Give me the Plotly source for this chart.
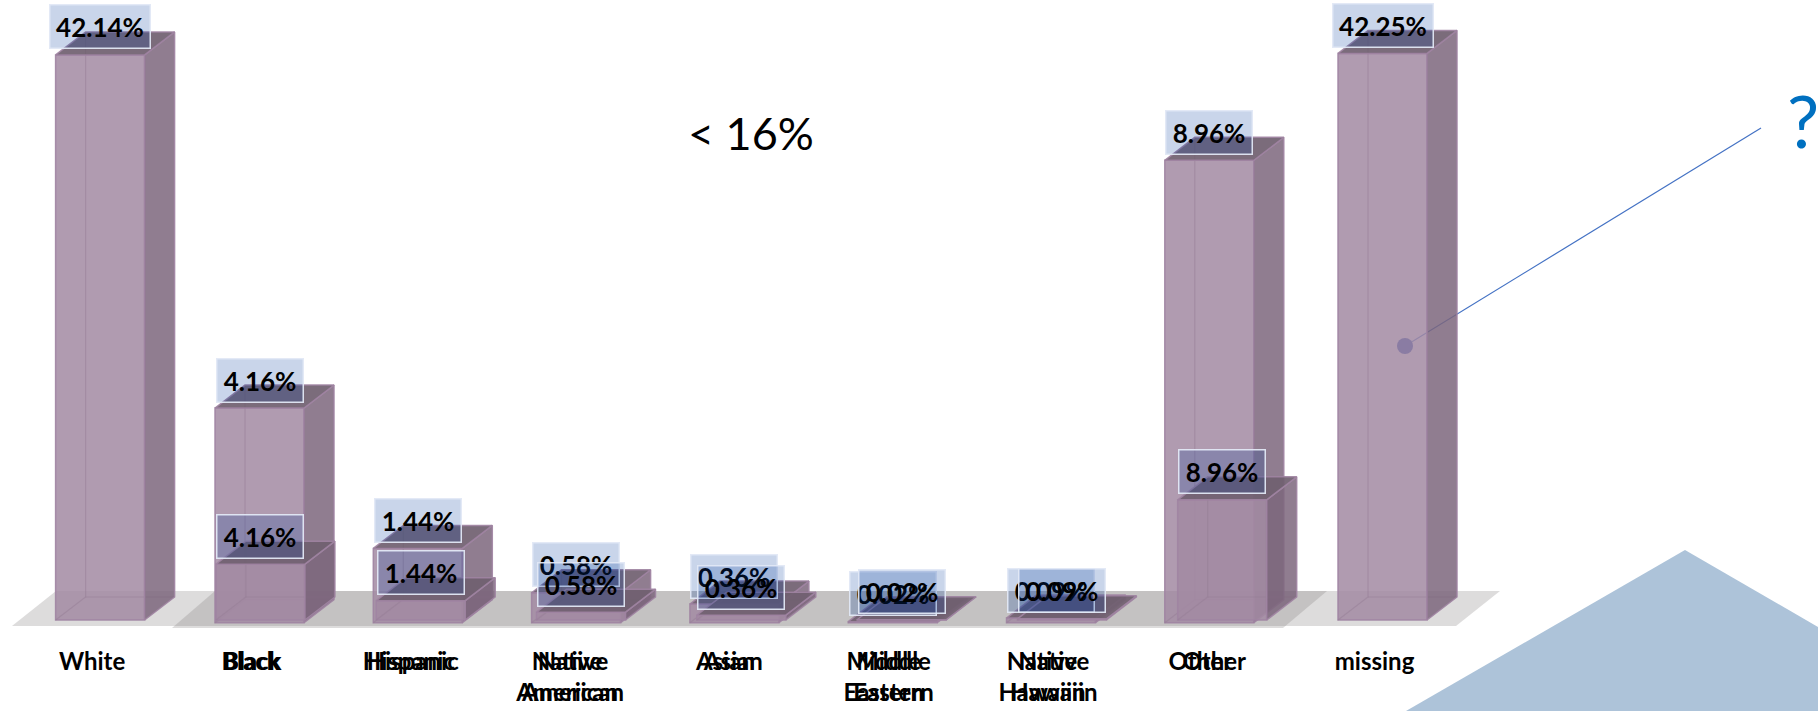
import plotly.graph_objects as go

# ---- data ----
categories_full = ["White", "Black", "Hispanic", "Native<br>American", "Asian",
                   "Middle<br>Eastern", "Native<br>Hawaiin", "Other", "missing"]
share_full = [42.14, 4.16, 1.44, 0.58, 0.36, 0.02, 0.09, 8.96, 42.25]
categories_zoom = ["Black", "Hispanic", "Native<br>American", "Asian",
                   "Middle<br>Eastern", "Native<br>Hawaiin", "Other"]
share_zoom = [4.16, 1.44, 0.58, 0.36, 0.02, 0.09, 8.96]

# ---- layout constants (px) ----
W, H = 1818, 711
BAR_W, DX, DY = 89, 30, 23
FULL_LEFT, FULL_STEP, FULL_BASE, FULL_SCALE = 55.6, 160.3, 620.0, 13.41
ZOOM_LEFT, ZOOM_STEP, ZOOM_BASE, ZOOM_SCALE = 215.0, 158.3, 622.7, 51.6

FRONT = "rgba(162,137,162,0.85)"
SIDE = "rgba(125,102,124,0.85)"
TOP = "rgba(112,96,112,0.92)"
EDGE = "rgba(160,132,162,0.9)"
INNER = "rgba(150,125,150,0.5)"
BOX = "rgba(0,56,157,0.21)"
BOX_EDGE = "rgba(225,232,245,0.95)"
FLOOR = "rgba(128,127,124,0.27)"
FONT = "Lato"

fig = go.Figure()


def add_chart(values, left0, step, scale, xa, ya):
    lefts = [left0 + i * step for i in range(len(values))]
    dy = DY / scale
    fig.add_trace(go.Bar(x=[l + BAR_W / 2 for l in lefts], y=values, width=BAR_W,
                         marker=dict(color=FRONT, line=dict(color=EDGE, width=1.5)),
                         xaxis=xa, yaxis=ya, hoverinfo="skip"))
    sx, sy, tx, ty, ix, iy = [], [], [], [], [], []
    for l, v in zip(lefts, values):
        r = l + BAR_W
        sx += [r, r + DX, r + DX, r, r, None]
        sy += [0, dy, v + dy, v, 0, None]
        tx += [l, l + DX, r + DX, r, l, None]
        ty += [v, v + dy, v + dy, v, v, None]
        ix += [l, l + DX, l + DX, None, l + DX, r + DX, None]
        iy += [0, dy, v + dy, None, dy, dy, None]
    fig.add_trace(go.Scatter(x=ix, y=iy, mode="lines", line=dict(color=INNER, width=1.2),
                             xaxis=xa, yaxis=ya, hoverinfo="skip"))
    for px_, py_, col in ((sx, sy, SIDE), (tx, ty, TOP)):
        fig.add_trace(go.Scatter(x=px_, y=py_, mode="lines", fill="toself", fillcolor=col,
                                 line=dict(color=EDGE, width=1.5),
                                 xaxis=xa, yaxis=ya, hoverinfo="skip"))
    return lefts


zoom_lefts = add_chart(share_zoom, ZOOM_LEFT, ZOOM_STEP, ZOOM_SCALE, "x", "y")
full_lefts = add_chart(share_full, FULL_LEFT, FULL_STEP, FULL_SCALE, "x2", "y2")

annotations = []


def add_labels(values, lefts, xa, ya):
    for l, v in zip(lefts, values):
        annotations.append(dict(
            x=l + 44.5, y=v, xref=xa, yref=ya, yshift=28, text=f"<b>{v:.2f}%</b>",
            showarrow=False, width=99 if v >= 10 else 85, height=42,
            align="center", valign="middle", bgcolor=BOX, bordercolor=BOX_EDGE,
            borderwidth=1.5, borderpad=0,
            font=dict(family=FONT, size=26, color="black")))


add_labels(share_zoom, zoom_lefts, "x", "y")
add_labels(share_full, full_lefts, "x2", "y2")
annotations.append(dict(x=751 / W, y=1 - 133 / H, xref="paper", yref="paper", text="&lt; 16%",
                        xanchor="center", yanchor="middle",
                        showarrow=False, font=dict(family=FONT, size=45, color="black")))
annotations.append(dict(x=1803 / W, y=1 - 120 / H, xref="paper", yref="paper", text="?",
                        xanchor="center", yanchor="middle",
                        showarrow=False, font=dict(family=FONT, size=72, color="#0070c0")))


def poly(points, fill, layer="below"):
    path = "M " + " L ".join(f"{x / W:.5f},{1 - y / H:.5f}" for x, y in points) + " Z"
    return dict(type="path", xref="paper", yref="paper", path=path, fillcolor=fill,
                line=dict(width=0), layer=layer)


shapes = [
    poly([(12, 626), (56, 591), (1500, 591), (1456, 626)], FLOOR),
    poly([(172, 628), (215, 591), (1327, 591), (1283, 628)], FLOOR),
    poly([(1406, 711), (1685, 550), (1818, 627), (1818, 711)], "#adc3d9"),
    dict(type="line", xref="paper", yref="paper", x0=1761 / W, y0=1 - 128 / H,
         x1=1405 / W, y1=1 - 346 / H, line=dict(color="#4472c4", width=1.2), layer="below"),
    dict(type="circle", xref="paper", yref="paper", x0=1397 / W, x1=1413 / W,
         y0=1 - 354 / H, y1=1 - 338 / H, fillcolor="#8a7ca3", line=dict(width=0), layer="above"),
]

tick_font = dict(family=FONT, size=24, color="black", weight=700)
fig.update_layout(
    width=W, height=H, margin=dict(l=0, r=0, t=0, b=0),
    paper_bgcolor="white", plot_bgcolor="rgba(0,0,0,0)", showlegend=False,
    barmode="overlay", annotations=annotations, shapes=shapes,
    xaxis=dict(range=[0, W], anchor="free", position=1 - 645 / H, showgrid=False, zeroline=False,
               showline=False, tickmode="array",
               tickvals=[l + BAR_W / 2 - 9 for l in zoom_lefts], ticktext=categories_zoom,
               ticks="", tickfont=tick_font, tickangle=0),
    xaxis2=dict(range=[0, W], overlaying="x", anchor="free", position=1 - 645 / H, side="bottom",
                showgrid=False, zeroline=False, showline=False, tickmode="array",
                tickvals=[l + BAR_W / 2 - 8 for l in full_lefts], ticktext=categories_full,
                ticks="", tickfont=tick_font, tickangle=0),
    yaxis=dict(range=[(ZOOM_BASE - H) / ZOOM_SCALE, ZOOM_BASE / ZOOM_SCALE], visible=False),
    yaxis2=dict(range=[(FULL_BASE - H) / FULL_SCALE, FULL_BASE / FULL_SCALE], visible=False,
                overlaying="y"),
)

fig.write_html("out.html", config={"displayModeBar": False},
               post_script="document.body.style.margin='0';document.body.style.overflow='hidden';")
